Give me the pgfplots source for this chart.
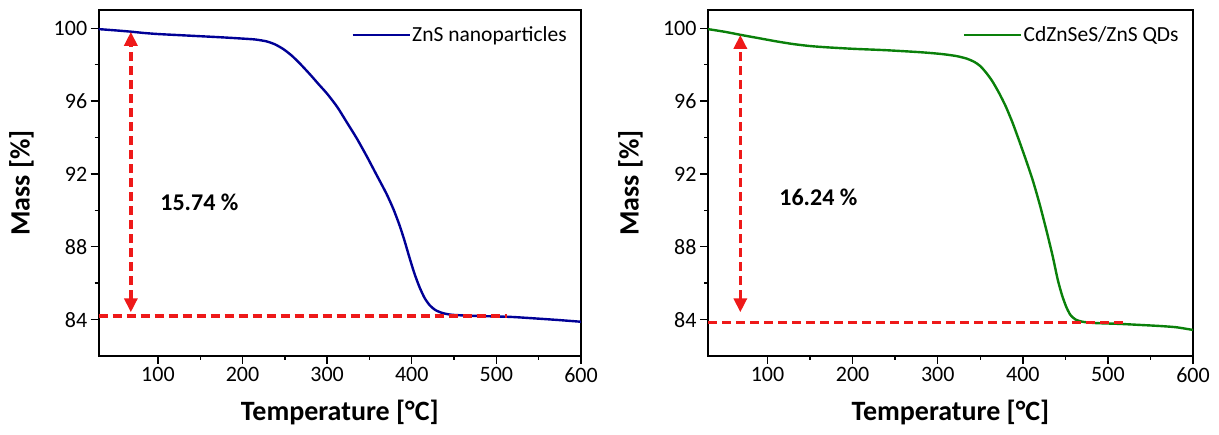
\documentclass[border=0pt]{standalone}
\usepackage{fontspec}
\setmainfont{Carlito}
\usepackage{pgfplots}
\pgfplotsset{compat=1.18}
\usetikzlibrary{arrows.meta}
\definecolor{zblue}{RGB}{0,0,150}
\definecolor{zgreen}{RGB}{10,128,10}
\definecolor{myred}{RGB}{238,25,25}

\pgfplotsset{
 tga/.style={
  scale only axis, height=346pt,
  xmin=30, xmax=600, ymin=82, ymax=101,
  xtick={100,200,...,600}, ytick={84,88,...,100},
  minor x tick num=1, minor y tick num=1,
  tick align=outside, xtick pos=bottom, ytick pos=left,
  major tick length=8pt, minor tick length=4pt,
  tick style={black, line width=1.4pt},
  minor tick style={black, line width=1.4pt},
  axis line style={line width=1.8pt},
  /pgf/number format/assume math mode=true,
  ticklabel style={font=\fontsize{22}{26}\selectfont},
  label style={font=\bfseries\fontsize{28}{32}\selectfont},
  xlabel={Temperature [°C]}, ylabel={Mass [\%]},
  xlabel style={at={(axis description cs:0.5,-0.162)}, anchor=center},
  ylabel style={at={(axis description cs:-0.16,0.5)}, anchor=center},
  legend style={draw=none, fill=none, anchor=east, inner sep=0pt,
     font=\fontsize{21.5}{25}\selectfont, nodes={inner sep=1.5pt}},
  legend image code/.code={\draw[##1] (0pt,0pt) -- (57pt,0pt);},
 },
 redline/.style={forget plot, myred, line width=3.4pt, dash pattern=on 9pt off 5pt},
}

\begin{document}
\begin{tikzpicture}
\path (-98.7pt,-79pt) rectangle (1120.3pt,356pt);
\begin{axis}[tga, width=482.3pt, at={(0pt,0pt)}, anchor=south west,
  legend style={at={(0.974,0.928)}}]
\addplot[zblue, line width=2.4pt, smooth, tension=0.4] coordinates {
(30,99.95) (50,99.88) (68,99.81) (83,99.74) (100,99.68) (125,99.62) (150,99.56)
(175,99.5) (200,99.43) (215,99.38) (228,99.28) (238,99.12) (248,98.86) (258,98.5)
(268,98.05) (280,97.45) (290,96.92) (300,96.4) (312,95.67) (323,94.85)
(335,93.95) (347,92.95) (358,91.98) (370,90.92) (378,90.1) (385,89.25) (391,88.4)
(397,87.45) (403,86.55) (409,85.8) (415,85.2) (421,84.8) (428,84.52) (437,84.35)
(448,84.26) (470,84.21) (500,84.17) (520,84.14) (550,84.05) (575,83.97) (600,83.88)
};
\addlegendentry{ZnS nanoparticles}
\addplot[redline] coordinates {(30,84.2) (512,84.2)};
\addplot[redline, {Triangle[length=14pt,width=13pt]}-{Triangle[length=14pt,width=13pt]}]
  coordinates {(68,84.4) (68,99.8)};
\node[font=\bfseries\fontsize{24}{28}\selectfont] at (axis cs:149,90.43) {15.74 \%};
\end{axis}
\begin{axis}[tga, width=485pt, at={(609.3pt,0pt)}, anchor=south west,
  legend style={at={(0.974,0.928)}}]
\addplot[zgreen, line width=2.4pt, smooth, tension=0.4] coordinates {
(30,99.95) (50,99.8) (70,99.62) (90,99.45) (110,99.28) (130,99.13) (150,99.02)
(170,98.95) (200,98.87) (240,98.79) (280,98.68) (305,98.58) (322,98.47) (334,98.33)
(343,98.15) (350,97.92) (357,97.55) (364,97.1) (372,96.45) (380,95.7) (388,94.8)
(396,93.78) (404,92.72) (412,91.6) (420,90.3) (428,88.85) (435,87.5) (441,86.2)
(446,85.35) (451,84.7) (456,84.25) (462,84.0) (470,83.88) (485,83.81) (515,83.76)
(540,83.7) (560,83.65) (580,83.58) (600,83.43)
};
\addlegendentry{CdZnSeS/ZnS QDs}
\addplot[redline] coordinates {(30,83.84) (519,83.84)};
\addplot[redline, {Triangle[length=14pt,width=13pt]}-{Triangle[length=14pt,width=13pt]}]
  coordinates {(68,84.4) (68,99.63)};
\node[font=\bfseries\fontsize{24}{28}\selectfont] at (axis cs:159.7,90.72) {16.24 \%};
\end{axis}
\end{tikzpicture}
\end{document}
